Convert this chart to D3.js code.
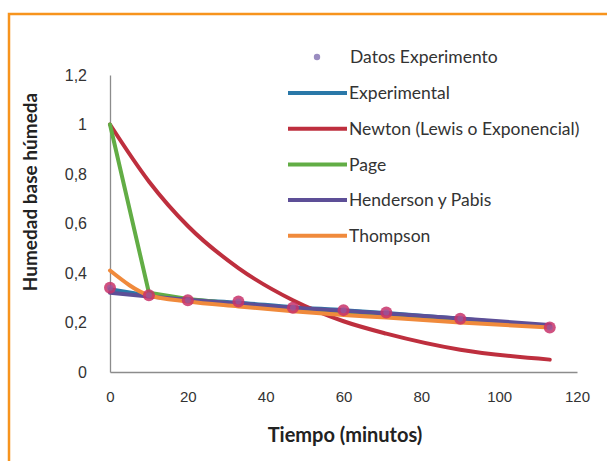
<!DOCTYPE html>
<html><head><meta charset="utf-8">
<script src="https://cdn.jsdelivr.net/npm/d3@7"></script>
<style>
html,body{margin:0;padding:0;background:#fff;}
svg{display:block;font-family:Lato,"Open Sans",sans-serif;}
</style></head>
<body>
<svg id="c" width="607" height="461"></svg>
<script>
const tiempo = [0, 10, 20, 33, 47, 60, 71, 90, 113];
const datosExperimento = [0.34, 0.31, 0.29, 0.285, 0.26, 0.25, 0.24, 0.215, 0.18];
const experimental = [0.335, 0.31, 0.293, 0.28, 0.262, 0.25, 0.238, 0.215, 0.185];
const newton = [1.0, 0.77, 0.59, 0.42, 0.29, 0.205, 0.155, 0.09, 0.05];
const page = [1.0, 0.32, 0.295, 0.275, 0.255, 0.24, 0.23, 0.21, 0.185];
const henderson = [0.32, 0.305, 0.292, 0.277, 0.26, 0.247, 0.236, 0.216, 0.19];
const thompson = [0.41, 0.31, 0.285, 0.265, 0.245, 0.23, 0.22, 0.2, 0.18];
const yTicks = [0, 0.2, 0.4, 0.6, 0.8, 1, 1.2];
const xTicks = [0, 20, 40, 60, 80, 100, 120];

const series = [
  {name: "Experimental", values: experimental, color: "#2a78a8", smooth: true},
  {name: "Newton (Lewis o Exponencial)", values: newton, color: "#be2f3e", smooth: true},
  {name: "Page", values: page, color: "#62ad45", smooth: false},
  {name: "Henderson y Pabis", values: henderson, color: "#5d4f97", smooth: true},
  {name: "Thompson", values: thompson, color: "#f08a3c", smooth: true}
];

const svg = d3.select("#c");
const x = d3.scaleLinear().domain([0, 120]).range([110, 577]);
const y = d3.scaleLinear().domain([0, 1.2]).range([372, 75]);
const fmt = d => String(d).replace(".", ",");

// frame
svg.append("rect").attr("x", 9).attr("y", 14).attr("width", 610).attr("height", 460)
  .attr("fill", "none").attr("stroke", "#f7941d").attr("stroke-width", 2.5);

// axes
const yAxis = svg.append("g").attr("transform", "translate(110,0)")
  .call(d3.axisLeft(y).tickValues(yTicks).tickFormat(fmt).tickSize(0).tickPadding(23));
yAxis.select(".domain").attr("stroke", "#8c8c8c").attr("stroke-width", 1.3);
yAxis.selectAll("text").attr("font-size", 16).attr("fill", "#333");

const xAxis = svg.append("g").attr("transform", "translate(0,372)")
  .call(d3.axisBottom(x).tickValues(xTicks).tickSize(0).tickPadding(19));
xAxis.select(".domain").attr("stroke", "#8c8c8c").attr("stroke-width", 1.3);
xAxis.selectAll("text").attr("font-size", 15).attr("fill", "#333");

// titles
svg.append("text").attr("x", 345).attr("y", 442).attr("text-anchor", "middle")
  .attr("font-size", 20).attr("font-weight", "bold").attr("fill", "#222").text("Tiempo (minutos)");
svg.append("text").attr("transform", "translate(37,192) rotate(-90)").attr("text-anchor", "middle")
  .attr("font-size", 19).attr("font-weight", "bold").attr("fill", "#222").text("Humedad base húmeda");

// lines
const smoothLine = d3.line().x((d, i) => x(tiempo[i])).y(d => y(d)).curve(d3.curveMonotoneX);
const straightLine = d3.line().x((d, i) => x(tiempo[i])).y(d => y(d));
series.forEach(s => {
  svg.append("path").datum(s.values).attr("d", s.smooth ? smoothLine : straightLine).attr("fill", "none")
    .attr("stroke", s.color).attr("stroke-width", 4).attr("stroke-linejoin", "round").attr("stroke-linecap", "round");
});

// markers
svg.append("g").selectAll("circle").data(datosExperimento).join("circle")
  .attr("cx", (d, i) => x(tiempo[i])).attr("cy", d => y(d)).attr("r", 6)
  .attr("fill", "#c8336a").attr("fill-opacity", 0.85);
svg.append("g").selectAll("circle").data(datosExperimento).join("circle")
  .attr("cx", (d, i) => x(tiempo[i])).attr("cy", d => y(d)).attr("r", 3)
  .attr("fill", "#8a5fa8").attr("fill-opacity", 0.6);

// legend
const lg = svg.append("g");
lg.append("circle").attr("cx", 317).attr("cy", 57).attr("r", 3.2).attr("fill", "#9a8cc0");
lg.append("text").attr("x", 350).attr("y", 57).attr("dy", "0.35em").attr("font-size", 17.5).attr("fill", "#333").text("Datos Experimento");
series.forEach((s, i) => {
  const yy = 93 + i * 35.7;
  lg.append("line").attr("x1", 288).attr("x2", 347).attr("y1", yy).attr("y2", yy)
    .attr("stroke", s.color).attr("stroke-width", 4);
  lg.append("text").attr("x", 349).attr("y", yy).attr("dy", "0.35em").attr("font-size", 17.5)
    .attr("fill", "#333").text(s.name);
});
</script>
</body></html>
